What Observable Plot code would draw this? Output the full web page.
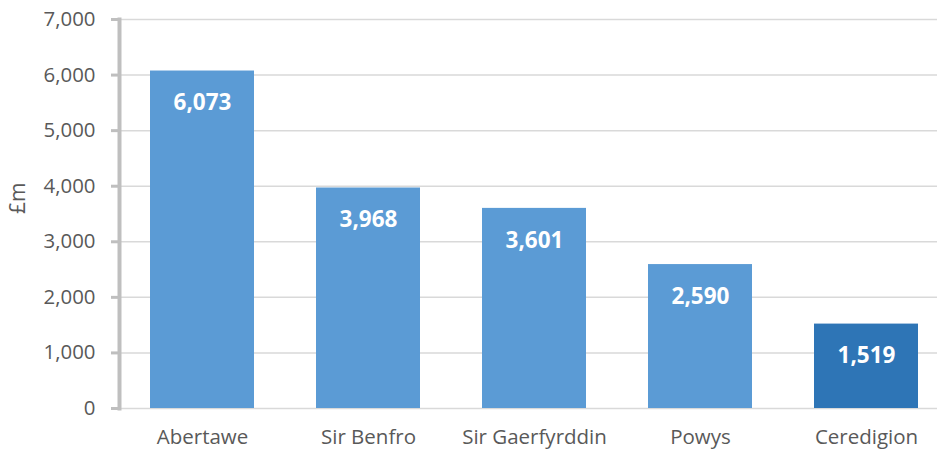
<!DOCTYPE html>
<html><head><meta charset="utf-8">
<script src="https://cdn.jsdelivr.net/npm/d3@7"></script>
<script src="https://cdn.jsdelivr.net/npm/@observablehq/plot@0.6"></script>
<style>body{margin:0;background:#fff;} svg{display:block;}</style>
</head><body><div id="chart"></div>
<script>
const categories = ["Abertawe", "Sir Benfro", "Sir Gaerfyrddin", "Powys", "Ceredigion"];
const values = [6073, 3968, 3601, 2590, 1519];
const yTicks = [0, 1000, 2000, 3000, 4000, 5000, 6000, 7000];
const highlight = "Ceredigion";

const data = categories.map((c, i) => ({category: c, value: values[i]}));
const font = "'Open Sans', sans-serif";

const chart = Plot.plot({
  width: 937, height: 452,
  marginLeft: 119, marginRight: 0, marginTop: 19, marginBottom: 44,
  style: {fontFamily: font, background: "#fff"},
  x: {domain: categories, range: [119, 949], paddingInner: 0.375, paddingOuter: 0.1875, label: null},
  y: {domain: [0, 7000], label: null},
  marks: [
    Plot.ruleY(yTicks, {stroke: "#d9d9d9", strokeWidth: 1.5}),
    Plot.barY(data, {x: "category", y: "value", fill: d => d.category === highlight ? "#2E75B6" : "#5B9BD5"}),
    Plot.text(data, {x: "category", y: "value", text: d => d3.format(",")(d.value), dy: 32, fill: "#fff", fontWeight: "bold", fontSize: 22.5}),
    Plot.axisY({ticks: yTicks, tickFormat: d3.format(","), tickSize: 8, tickPadding: 16, stroke: "#bfbfbf", strokeWidth: 3, fill: "#595959", fontSize: 20.4, label: null}),
    Plot.axisX({tickSize: 0, tickPadding: 21, fill: "#595959", fontSize: 20.5, label: null}),
    Plot.frame({anchor: "left", stroke: "#bfbfbf", strokeWidth: 4}),
    Plot.text(["£m"], {frameAnchor: "left", dx: -101, rotate: -90, fontSize: 21, fill: "#595959"})
  ]
});
document.getElementById("chart").appendChild(chart);
</script></body></html>
